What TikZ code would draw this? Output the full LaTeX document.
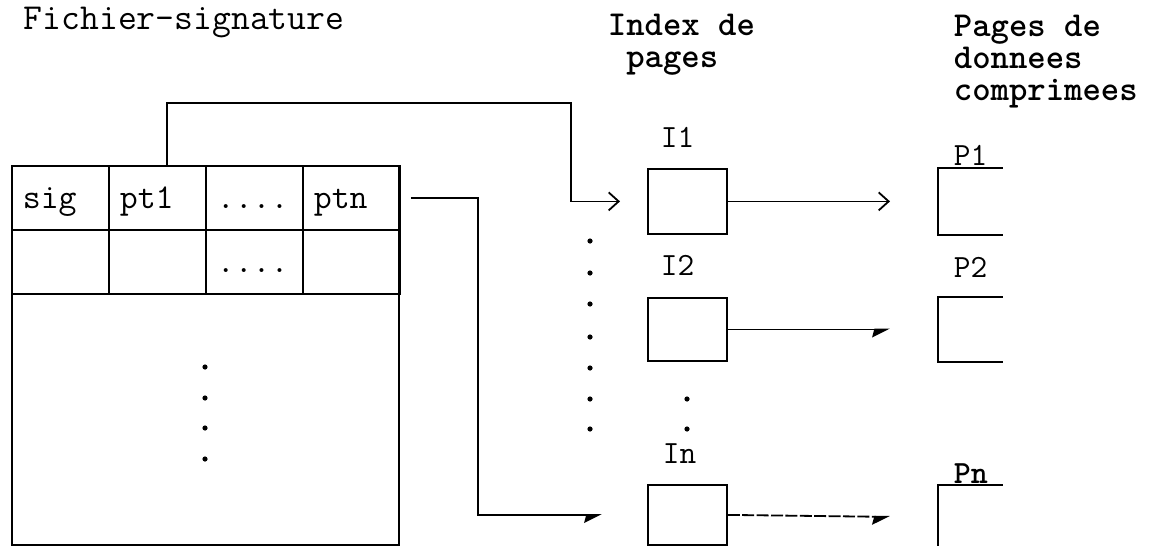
\documentclass[tikz,border=0pt]{standalone}
\usepackage{fontspec}
\usetikzlibrary{arrows.meta,calc}
\begin{document}
\begin{tikzpicture}[x=0.5pt,y=-0.5pt,line width=0.9pt,
  cell/.style={draw,anchor=north west,minimum width=48.5pt,minimum height=32pt,
    inner xsep=5.5pt,inner ysep=0pt,text width=37.5pt,align=left,
    text height=13pt,text depth=2pt,font=\ttfamily\fontsize{17.4}{18}\selectfont},
  ibox/.style={draw,anchor=north west,minimum width=39.5pt,inner sep=0pt},
  pbox/.style={anchor=north west,minimum width=31.5pt,inner sep=0pt},
  lab/.style={anchor=base west,inner sep=0pt,font=\ttfamily\fontsize{16.2}{18}\selectfont},
  head/.style={anchor=base west,inner sep=0pt,align=left,
    font=\ttfamily\bfseries\fontsize{17.5}{16}\selectfont},
  barb/.style={-{Straight Barb[length=5pt,width=9pt,line width=0.9pt]}},
  harp/.style={-{Stealth[harpoon,swap,length=8pt,width=8pt,inset=1pt]}},
  bigdot/.style={radius=1.3pt}]
\useasboundingbox (0,0) rectangle (1152,546);

% headings (anchor at the baseline of the last line)
\node[anchor=base west,inner sep=0pt,font=\ttfamily\fontsize{18.3}{20}\selectfont] (tfich) at (23,30) {Fichier-signature};
\node[head] (tidx) at (607,67) {Index de\\\ pages};
\node[head] (tpg) at (953,100) {Pages de\\donnees\\comprimees};

% signature file
\node[draw,anchor=north west,minimum width=193.5pt,minimum height=189.5pt,inner sep=0pt] (fichier) at (11,165) {};
\node[cell] (sig) at (11,165) {sig};
\node[cell] (pt1) at (108,165) {pt1};
\node[cell] (dots1) at (205,165) {....};
\node[cell] (ptn) at (302,165) {ptn};
\node[cell] (r2a) at (11,229) {};
\node[cell] (r2b) at (108,229) {};
\node[cell] (r2c) at (205,229) {....};
\node[cell] (r2d) at (302,229) {};
\foreach \yy in {367,398,428,459} \fill (205,\yy) circle[bigdot];

% index pages
\node[ibox,minimum height=32.5pt] (I1) at (647,168) {};
\node[ibox,minimum height=31.5pt] (I2) at (647,297) {};
\node[ibox,minimum height=30pt] (In) at (647,484) {};
\node[lab] (lI1) at (660,147) {I1};
\node[lab] (lI2) at (660,275) {I2};
\node[lab] (lIn) at (662,463) {In};
\foreach \yy in {241,273,304,337,368,399,429} \fill (590,\yy) circle[bigdot];
\foreach \yy in {399,429} \fill (687,\yy) circle[bigdot];

% data pages
\node[pbox,minimum height=32.5pt] (P1) at (938,168) {};
\node[pbox,minimum height=31.5pt] (P2) at (938,297) {};
\node[pbox,minimum height=32pt] (Pn) at (938,485) {};
\draw (P1.north east) -- (P1.north west) -- (P1.south west) -- (P1.south east);
\draw (P2.north east) -- (P2.north west) -- (P2.south west) -- (P2.south east);
\draw (Pn.north east) -- (Pn.north west) -- (Pn.south west);
\node[lab] (lP1) at (953,165) {P1};
\node[lab] (lP2) at (953,277) {P2};
\node[lab,font=\ttfamily\bfseries\fontsize{16.2}{18}\selectfont] (lPn) at (953,483) {Pn};

% connectors
\draw[barb] ([xshift=4.75pt]pt1.north) -- ++(0,-62) -| ($(I1.west)+(-76,0)$) -- ($(I1.west)+(-27,0)$);
\draw[harp] ([xshift=5pt]ptn.east) -- ++(67,0) |- ($(In.west)+(-45,0)$);
\draw[barb] (I1.east) -- ($(P1.west)+(-48,0)$);
\draw[harp] (I2.east) -- ($(P2.west)+(-48,0)$);
\draw[harp,dash pattern=on 6pt off 1.2pt] (In.east) -- ($(Pn.west)+(-48,-1)$);
\end{tikzpicture}
\end{document}
